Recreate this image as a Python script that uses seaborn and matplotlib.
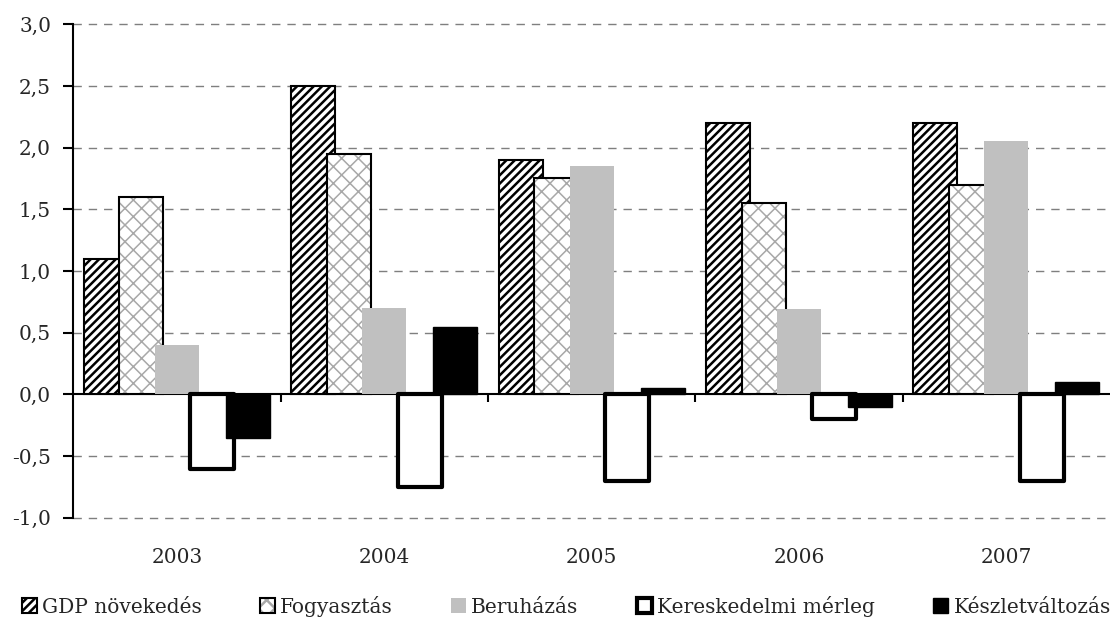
import numpy as np
import pandas as pd
import matplotlib
matplotlib.use("Agg")
import matplotlib.pyplot as plt
from matplotlib.patches import Rectangle, Patch
from matplotlib.legend_handler import HandlerTuple
import seaborn as sns

# --- data -------------------------------------------------------------
years = ["2003", "2004", "2005", "2006", "2007"]
series = ["GDP növekedés", "Fogyasztás", "Beruházás",
          "Kereskedelmi mérleg", "Készletváltozás"]
gdp = [1.1, 2.5, 1.9, 2.2, 2.2]
fogyasztas = [1.6, 1.95, 1.75, 1.55, 1.7]
beruhazas = [0.4, 0.7, 1.85, 0.69, 2.05]
kereskedelmi = [-0.6, -0.75, -0.7, -0.2, -0.7]
keszlet = [-0.35, 0.55, 0.05, -0.1, 0.1]
y_ticks = [-1.0, -0.5, 0.0, 0.5, 1.0, 1.5, 2.0, 2.5, 3.0]
y_labels = ["-1,0", "-0,5", "0,0", "0,5", "1,0", "1,5", "2,0", "2,5", "3,0"]

values = [gdp, fogyasztas, beruhazas, kereskedelmi, keszlet]
df = pd.DataFrame({
    "year": np.repeat([years], len(series), axis=0).ravel(),
    "series": np.repeat(series, len(years)),
    "value": np.concatenate(values),
})

# --- style ------------------------------------------------------------
sns.set_theme(style="white")
plt.rcParams["font.family"] = ["DejaVu Serif"]
plt.rcParams["hatch.linewidth"] = 1.8

face = ["white", "white", "#c0c0c0", "white", "black"]
edge = ["black", "black", "#c0c0c0", "black", "black"]
lws = [1.5, 1.5, 0.0, 3.0, 1.0]
hatches = ["////", "xx", None, None, None]

fig = plt.figure(figsize=(11.10, 6.37), dpi=100)
ax = fig.add_axes([0.066, 0.187, 0.934, 0.775])

sns.barplot(data=df, x="year", y="value", hue="series", order=years,
            hue_order=series, width=0.855, dodge=True, errorbar=None,
            saturation=1, palette=dict(zip(series, face)), legend=False,
            ax=ax)

# widen the bars so neighbours overlap, and apply each series' look
widen = 1.24
for i, cont in enumerate(ax.containers):
    for rect in cont:
        w = rect.get_width()
        cx = rect.get_x() + w / 2
        rect.set_width(w * widen)
        rect.set_x(cx - w * widen / 2)
        rect.set_facecolor(face[i])
        rect.set_edgecolor(edge[i])
        rect.set_linewidth(lws[i])
        rect.set_zorder(3 + i)
        if hatches[i]:
            rect.set_hatch(hatches[i])
        if i == 1:
            # light grey lattice hatch, black outline drawn on top
            rect.set_edgecolor("#a8a8a8")
            rect.set_linewidth(0)
            if hasattr(rect, "set_hatch_linewidth"):
                rect.set_hatch_linewidth(1.1)
            ax.add_patch(Rectangle(rect.get_xy(), rect.get_width(),
                                   rect.get_height(), fill=False,
                                   ec="black", lw=1.5, zorder=3 + i))
        elif i == 3:
            rect.set_joinstyle("round")

# --- axes -------------------------------------------------------------
ax.set_ylim(-1.0, 3.0)
ax.set_xlim(-0.5, len(years) - 0.5)
ax.set_yticks(y_ticks)
ax.set_yticklabels(y_labels)
ax.set_xlabel("")
ax.set_ylabel("")
for s in ["top", "right", "bottom"]:
    ax.spines[s].set_visible(False)
ax.spines["left"].set_color("black")
ax.spines["left"].set_linewidth(1.5)
ax.tick_params(axis="y", direction="out", length=7, width=1.5,
               color="black", labelsize=14.5, pad=9, left=True)
ax.tick_params(axis="x", length=0, labelsize=14.5, pad=22)
for t in ax.get_yticks():
    if t != 0:
        ax.axhline(t, color="#7f7f7f", lw=1.0, ls=(0, (6, 5)), zorder=1,
                   clip_on=False)

# zero line with ticks between the years
zero = ax.secondary_xaxis((0 - (-1.0)) / (3.0 - (-1.0)))
zero.set_xticks(np.arange(len(years) - 1) + 0.5)
zero.tick_params(direction="out", length=6, width=1.5, color="black",
                 labelbottom=False, labeltop=False)
zero.spines["bottom"].set_color("black")
zero.spines["bottom"].set_linewidth(1.5)

# --- legend -----------------------------------------------------------
handles = []
for i, name in enumerate(series):
    if i == 1:
        h = (Patch(facecolor="white", edgecolor="#a8a8a8", linewidth=0,
                   hatch=hatches[i]),
             Patch(fill=False, edgecolor="black", linewidth=lws[i]))
    else:
        h = Patch(facecolor=face[i], edgecolor=edge[i],
                  linewidth=lws[i], hatch=hatches[i])
    handles.append(h)
fig.legend(handles=handles, labels=series, loc="lower center", ncol=5,
           bbox_to_anchor=(0.51, 0.0), frameon=False, fontsize=14.5,
           handlelength=0.75, handleheight=0.75, handletextpad=0.25,
           columnspacing=2.9, borderaxespad=0.6,
           handler_map={tuple: HandlerTuple(ndivide=1, pad=0)})

fig.savefig("out.png", dpi=100)
